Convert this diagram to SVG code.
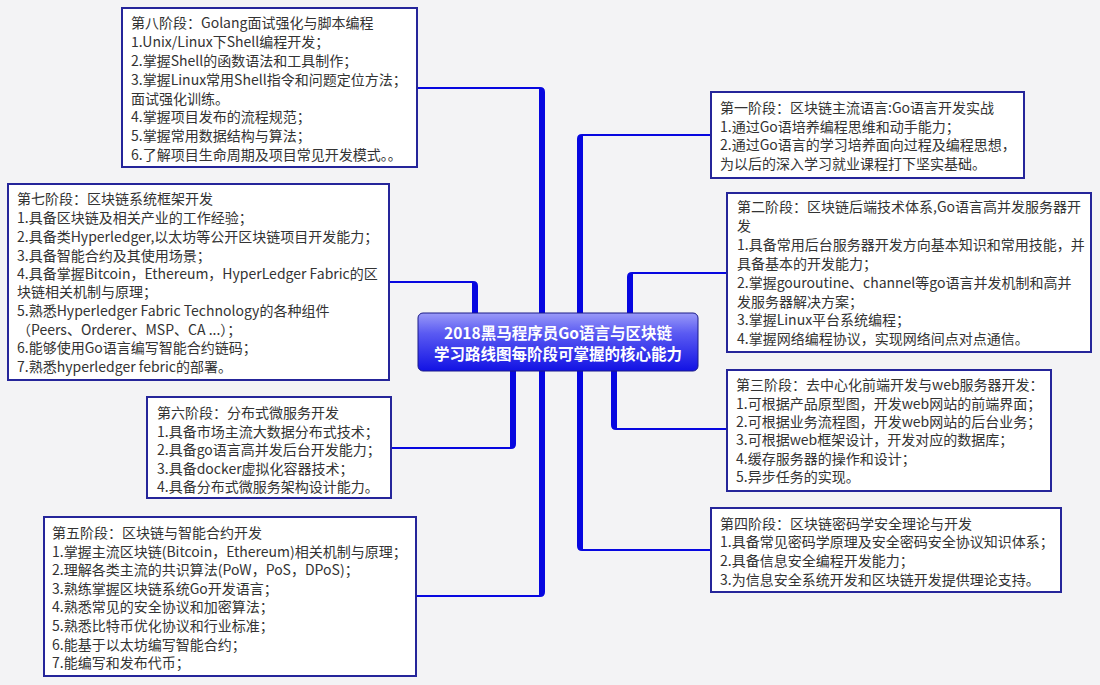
<svg xmlns="http://www.w3.org/2000/svg" width="1100" height="685" viewBox="0 0 1100 685">
<defs>
<linearGradient id="cg" x1="0" y1="0" x2="0" y2="1">
<stop offset="0" stop-color="#9a9af8"/>
<stop offset="0.35" stop-color="#5a5af2"/>
<stop offset="1" stop-color="#1212e4"/>
</linearGradient>
<style>
.box{fill:#ffffff;stroke:#25259a;stroke-width:2}
.t{font-family:"Noto Sans CJK SC","Microsoft YaHei",sans-serif;font-size:14px;fill:#333333}
.ct{font-family:"Noto Sans CJK SC","Microsoft YaHei",sans-serif;font-size:15.5px;font-weight:bold;fill:#ffffff;text-anchor:middle}
.c{fill:#0707e0}
</style>
</defs>
<rect x="0" y="0" width="1100" height="685" fill="#f3f3f5"/>
<g id="connectors">
<path class="c" d="M417,87 H540 Q545,87 545,92 V320 H539 V89 H417 Z"/>
<path class="c" d="M389,281 H473 Q478,281 478,286 V320 H472 V283 H389 Z"/>
<path class="c" d="M711,134 H582 Q577,134 577,139 V320 H583 V136 H711 Z"/>
<path class="c" d="M727,272 H632 Q627,272 627,277 V320 H633 V274 H727 Z"/>
<path class="c" d="M391,449 H511 Q516,449 516,444 V365 H510 V447 H391 Z"/>
<path class="c" d="M416,597 H540 Q545,597 545,592 V365 H539 V595 H416 Z"/>
<path class="c" d="M727,430 H616 Q611,430 611,425 V365 H617 V428 H727 Z"/>
<path class="c" d="M711,551 H582 Q577,551 577,546 V365 H583 V549 H711 Z"/>
</g>
<g id="center">
<rect x="418" y="313" width="280" height="58" rx="5" fill="url(#cg)" stroke="#1a1a88" stroke-width="1"/>
<text class="ct" x="558" y="339">2018黑马程序员Go语言与区块链</text>
<text class="ct" x="558" y="360">学习路线图每阶段可掌握的核心能力</text>
</g>
<g id="stage8">
<rect class="box" x="122" y="8" width="295" height="159"/>
<text class="t" x="131" y="28">第八阶段：Golang面试强化与脚本编程</text>
<text class="t" x="131" y="47">1.Unix/Linux下Shell编程开发；</text>
<text class="t" x="131" y="66">2.掌握Shell的函数语法和工具制作；</text>
<text class="t" x="131" y="85">3.掌握Linux常用Shell指令和问题定位方法；</text>
<text class="t" x="131" y="104">面试强化训练。</text>
<text class="t" x="131" y="122">4.掌握项目发布的流程规范；</text>
<text class="t" x="131" y="141">5.掌握常用数据结构与算法；</text>
<text class="t" x="131" y="160">6.了解项目生命周期及项目常见开发模式。。</text>
</g>
<g id="stage7">
<rect class="box" x="8" y="184" width="381" height="196"/>
<text class="t" x="17" y="204">第七阶段：区块链系统框架开发</text>
<text class="t" x="17" y="223">1.具备区块链及相关产业的工作经验；</text>
<text class="t" x="17" y="241.5">2.具备类Hyperledger,以太坊等公开区块链项目开发能力；</text>
<text class="t" x="17" y="260.5">3.具备智能合约及其使用场景；</text>
<text class="t" x="17" y="279">4.具备掌握Bitcoin，Ethereum，HyperLedger Fabric的区</text>
<text class="t" x="17" y="297">块链相关机制与原理；</text>
<text class="t" x="17" y="316">5.熟悉Hyperledger Fabric Technology的各种组件</text>
<text class="t" x="17" y="334.5">（Peers、Orderer、MSP、CA ...）；</text>
<text class="t" x="17" y="353">6.能够使用Go语言编写智能合约链码；</text>
<text class="t" x="17" y="372">7.熟悉hyperledger febric的部署。</text>
</g>
<g id="stage6">
<rect class="box" x="147" y="397" width="244" height="101"/>
<text class="t" x="157" y="418">第六阶段：分布式微服务开发</text>
<text class="t" x="157" y="437">1.具备市场主流大数据分布式技术；</text>
<text class="t" x="157" y="455">2.具备go语言高并发后台开发能力；</text>
<text class="t" x="157" y="474">3.具备docker虚拟化容器技术；</text>
<text class="t" x="157" y="492">4.具备分布式微服务架构设计能力。</text>
</g>
<g id="stage5">
<rect class="box" x="44" y="517" width="372" height="159"/>
<text class="t" x="52" y="538">第五阶段：区块链与智能合约开发</text>
<text class="t" x="52" y="557">1.掌握主流区块链(Bitcoin，Ethereum)相关机制与原理；</text>
<text class="t" x="52" y="575">2.理解各类主流的共识算法(PoW，PoS，DPoS)；</text>
<text class="t" x="52" y="594">3.熟练掌握区块链系统Go开发语言；</text>
<text class="t" x="52" y="612">4.熟悉常见的安全协议和加密算法；</text>
<text class="t" x="52" y="631">5.熟悉比特币优化协议和行业标准；</text>
<text class="t" x="52" y="650">6.能基于以太坊编写智能合约；</text>
<text class="t" x="52" y="668">7.能编写和发布代币；</text>
</g>
<g id="stage1">
<rect class="box" x="711" y="92" width="313" height="86"/>
<text class="t" x="720" y="113">第一阶段：区块链主流语言:Go语言开发实战</text>
<text class="t" x="720" y="131.5">1.通过Go语培养编程思维和动手能力；</text>
<text class="t" x="720" y="150">2.通过Go语言的学习培养面向过程及编程思想，</text>
<text class="t" x="720" y="168.5">为以后的深入学习就业课程打下坚实基础。</text>
</g>
<g id="stage2">
<rect class="box" x="727" y="193" width="364" height="159"/>
<text class="t" x="737" y="212">第二阶段：区块链后端技术体系,Go语言高并发服务器开</text>
<text class="t" x="737" y="231">发</text>
<text class="t" x="737" y="250">1.具备常用后台服务器开发方向基本知识和常用技能，并</text>
<text class="t" x="737" y="269">具备基本的开发能力；</text>
<text class="t" x="737" y="288">2.掌握gouroutine、channel等go语言并发机制和高并</text>
<text class="t" x="737" y="307">发服务器解决方案；</text>
<text class="t" x="737" y="325">3.掌握Linux平台系统编程；</text>
<text class="t" x="737" y="344">4.掌握网络编程协议，实现网络间点对点通信。</text>
</g>
<g id="stage3">
<rect class="box" x="727" y="370" width="324" height="121"/>
<text class="t" x="736" y="390">第三阶段：去中心化前端开发与web服务器开发：</text>
<text class="t" x="736" y="408.5">1.可根据产品原型图，开发web网站的前端界面；</text>
<text class="t" x="736" y="427">2.可根据业务流程图，开发web网站的后台业务；</text>
<text class="t" x="736" y="445">3.可根据web框架设计，开发对应的数据库；</text>
<text class="t" x="736" y="463.5">4.缓存服务器的操作和设计；</text>
<text class="t" x="736" y="482">5.异步任务的实现。</text>
</g>
<g id="stage4">
<rect class="box" x="711" y="508" width="350" height="84"/>
<text class="t" x="720" y="528.5">第四阶段：区块链密码学安全理论与开发</text>
<text class="t" x="720" y="547">1.具备常见密码学原理及安全密码安全协议知识体系；</text>
<text class="t" x="720" y="565.5">2.具备信息安全编程开发能力；</text>
<text class="t" x="720" y="584.5">3.为信息安全系统开发和区块链开发提供理论支持。</text>
</g>
</svg>
